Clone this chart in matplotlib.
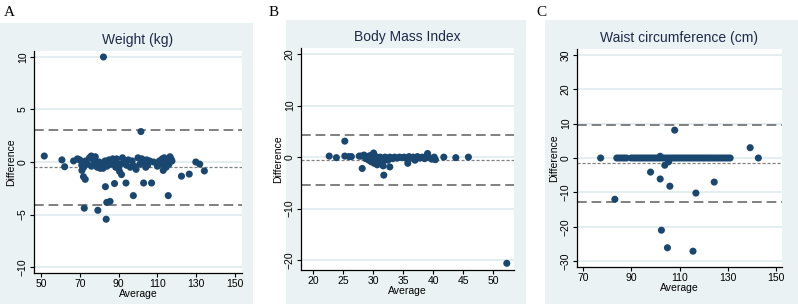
import matplotlib.pyplot as plt
from matplotlib.patches import Rectangle

plt.rcParams['font.family'] = ['Liberation Sans', 'DejaVu Sans']

# Panel A - weight
wt_avg = [82.2, 101.5, 51.7, 60.8, 62.2, 66.8, 68.8, 71.1, 71.9, 72.8, 72.3, 79.3,
          83.6, 83.2, 83.9, 85.6, 87.9, 93.8, 97.6, 102.9, 107.0, 115.6, 122.4, 126.4,
          129.8, 131.8, 134.2, 75.9, 78.0,
          70, 71, 72, 73, 74, 75, 76, 77, 78, 79, 80, 80.5, 81, 82, 83, 84, 85, 86, 87,
          88, 88.5, 89, 90, 90.5, 91, 91.5, 92, 93, 94, 95, 96, 97, 98, 99, 100, 101,
          102, 103, 104, 104.5, 105, 106, 110, 111, 112, 112.5, 113, 113.5, 114, 114.5,
          115, 116, 116.5, 117, 117.5, 108]
wt_diff = [10.0, 2.9, 0.57, 0.2, -0.45, 0.1, 0.3, -0.8, -1.4, -1.65, -4.4, -4.6,
           -5.45, -2.35, -3.85, -3.75, -2.05, -2.0, -3.2, -2.0, -2.0, -3.2, -1.35, -1.15,
           0.0, -0.2, -0.85, 0.57, 0.5,
           0.2, -0.3, -0.5, 0.1, -0.2, 0.4, -0.4, 0.2, -0.1, -0.5, 0.0, -0.6, -0.3, -0.6,
           0.1, -0.4, 0.2, -0.2, 0.3, 0.0, -0.5, 0.3, -0.6, -0.9, -0.2, -1.2, 0.4, 0.0,
           -0.3, 0.2, -0.5, 0.1, -0.4, -0.7, 0.4, -0.2, 0.3, 0.0, -0.5, 0.2, -0.3, 0.1,
           -0.4, 0.1, -0.2, 0.3, -0.8, 0.4, 0.0, -0.5, 0.2, -0.2, 0.5, 0.3, 0.1, 0.0]
wt_lines = [3.06, -0.5, -4.1]

# Panel B - BMI
bmi_avg = [25.3, 22.7, 23.9, 25.3, 26.4, 27.7, 28.2, 31.8, 32.8, 30.1, 35.8, 39.1,
           41.8, 43.8, 45.9, 52.3,
           26.0, 28.0, 28.5, 28.8, 29.0, 29.3, 29.5, 29.7, 30.0, 30.2, 30.4, 30.5, 30.7,
           30.9, 31.0, 31.2, 31.4, 31.5, 31.7, 31.9, 32.0, 32.3, 32.5, 32.8, 33.0, 33.3,
           33.6, 34.0, 34.4, 34.8, 35.2, 35.6, 36.0, 36.3, 36.7, 37.0, 37.4, 37.8, 38.2,
           38.6, 39.0, 39.4, 39.8, 40.2, 40.4, 29.8, 30.6, 31.1, 31.6]
bmi_diff = [3.1, 0.2, -0.1, 0.2, 0.1, 0.2, -2.2, -3.5, -1.9, 0.8, -1.2, 0.7,
            0.0, -0.1, 0.0, -20.6,
            0.1, 0.2, 0.4, -0.3, 0.1, -0.6, 0.3, -0.9, 0.2, -1.2, -0.4, 0.1, -1.5,
            -0.2, -0.8, 0.0, -1.1, -0.3, -1.7, -0.5, 0.0, -0.2, -0.6, 0.0, -0.1, -0.3,
            0.0, -0.2, 0.0, -0.1, 0.0, -0.3, 0.1, -0.2, 0.0, -0.6, 0.1, -0.2, 0.0,
            -0.3, 0.3, -0.1, -0.4, 0.0, -0.5, -0.7, -1.0, -0.4, -0.9]
bmi_lines = [4.26, -0.52, -5.48]

# Panel C - waist
wc_avg = [77.3, 83.2, 98.0, 102.0, 102.0, 103.9, 105.5, 106.0, 108.0, 102.5, 105.0,
          115.6, 116.8, 124.4, 139.3, 142.7,
          84, 85, 86, 87, 88, 90, 91, 92, 93, 94, 95, 96, 97, 98, 99, 100, 101, 102,
          103, 104, 105, 106, 107, 108, 109, 110, 111, 112, 113, 114, 115, 116, 117,
          118, 119, 120, 121, 122, 123, 124, 125, 126, 127, 128, 129, 130, 131]
wc_diff = [0.0, -12.0, -4.1, -6.1, 0.5, -2.1, -1.1, -8.2, 8.1, -21.0, -26.1,
           -27.1, -10.2, -7.0, 3.0, 0.0,
           0, 0, 0, 0, 0, 0, 0, 0, 0, 0, 0, 0, 0, 0, 0, 0, 0, 0,
           0, 0, 0, 0, 0, 0, 0, 0, 0, 0, 0, 0, 0, 0, 0,
           0, 0, 0, 0, 0, 0, 0, 0, 0, 0, 0, 0, 0, 0]
wc_lines = [9.5, -1.55, -12.7]

W, H = 798, 304
bg = '#eaf2f3'
navy = '#1a476f'

fig = plt.figure(figsize=(W / 100, H / 100), dpi=100)


def px_box(l, t, r, b):
    return [l / W, 1 - b / H, (r - l) / W, (b - t) / H]


def panel(letter, lx, outer, inner, title, x, y, lines, xlim, ylim, xt, yt):
    l, t, r, b = outer
    fig.add_artist(Rectangle((l / W, 1 - b / H), (r - l) / W, (b - t) / H,
                             transform=fig.transFigure, facecolor=bg,
                             edgecolor='none', zorder=0))
    fig.text(lx / W, 1 - 16 / H, letter, family='Liberation Serif', fontsize=11,
             va='baseline')
    ax = fig.add_axes(px_box(*inner))
    ax.set_facecolor('white')
    for v in yt:
        ax.axhline(v, color='#e2edef', lw=1.3, zorder=1)
    ax.axhline(lines[0], color='#808080', lw=1.4, ls=(0, (5, 2.5)), zorder=2)
    ax.axhline(lines[2], color='#808080', lw=1.4, ls=(0, (5, 2.5)), zorder=2)
    ax.axhline(lines[1], color='#808080', lw=0.9, ls=(0, (2.5, 1.5)), zorder=2)
    ax.scatter(x, y, s=26, color=navy, edgecolors='none', zorder=3)
    ax.set_xlim(*xlim)
    ax.set_ylim(*ylim)
    ax.set_xticks(xt)
    ax.set_yticks(yt)
    ax.set_yticklabels([str(v).replace('-', '\u2212') for v in yt], rotation=90,
                       va='center')
    ax.tick_params(labelsize=7.5, length=3, width=0.8, pad=1.5)
    for s in ['top', 'right']:
        ax.spines[s].set_visible(False)
    for s in ['left', 'bottom']:
        ax.spines[s].set_linewidth(0.9)
    ax.set_title(title, fontsize=10, color='#1e2a4a', pad=5)
    ax.set_xlabel('Average', fontsize=7.5, labelpad=0)
    ax.set_ylabel('Difference', fontsize=7.5, labelpad=1)
    return ax


panel('A', 4, (0, 23, 253, 304), (34, 51, 242, 273), 'Weight (kg)', wt_avg, wt_diff,
      wt_lines, (46.4, 153.6), (-10.57, 10.57), [50, 70, 90, 110, 130, 150],
      [-10, -5, 0, 5, 10])
panel('B', 269, (286, 20, 526, 304), (301, 48, 514, 270), 'Body Mass Index', bmi_avg,
      bmi_diff, bmi_lines, (18, 53.5), (-21.9, 21.17), [20, 25, 30, 35, 40, 45, 50],
      [-20, -10, 0, 10, 20])
panel('C', 536, (545, 20, 798, 304), (577, 49, 782, 267), 'Waist circumference (cm)',
      wc_avg, wc_diff, wc_lines, (67.5, 152.5), (-31.7, 31.7),
      [70, 90, 110, 130, 150], [-30, -20, -10, 0, 10, 20, 30])

fig.savefig('out.png', dpi=100, facecolor='white')
